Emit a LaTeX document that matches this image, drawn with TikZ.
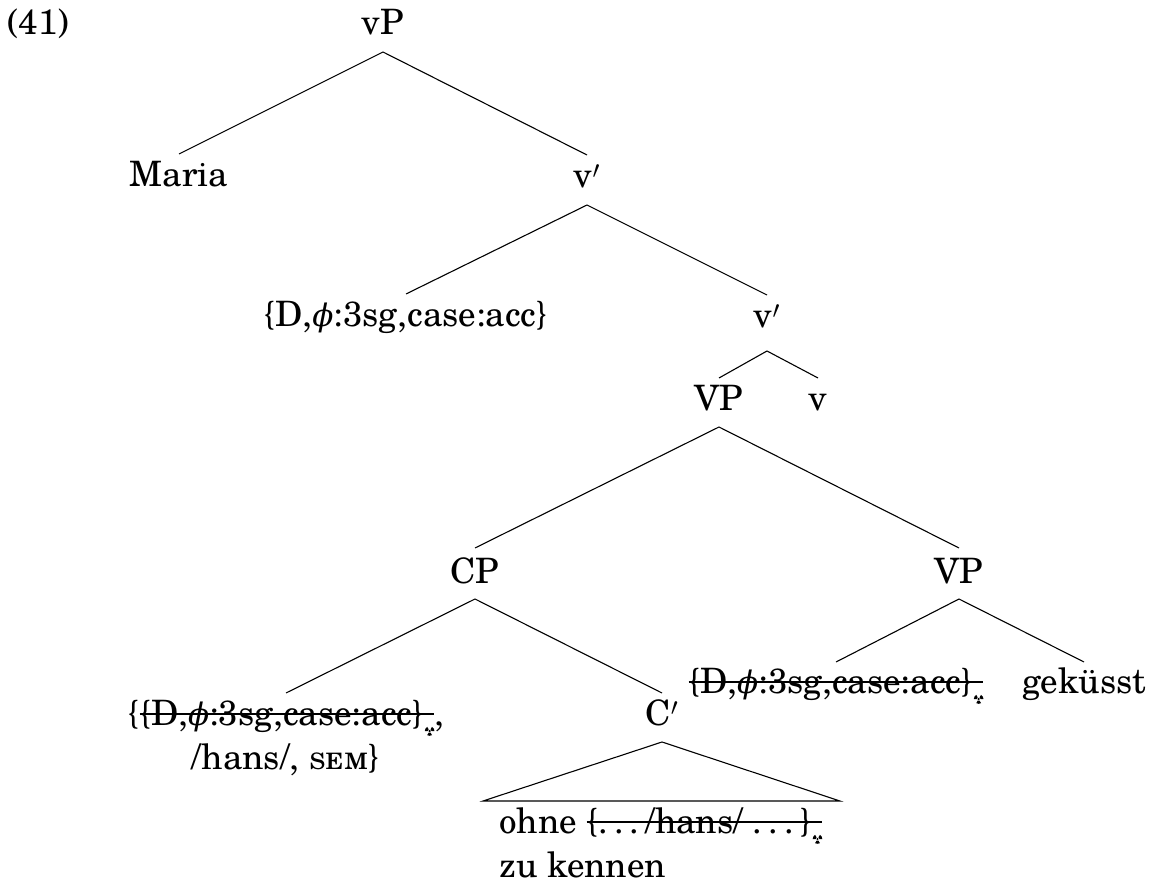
\documentclass[tikz,border=0pt]{standalone}
\usepackage{fontspec}
\setmainfont{texgyreschola}[Extension=.otf, UprightFont=*-regular, ItalicFont=*-italic, BoldFont=*-bold, BoldItalicFont=*-bolditalic]
\newfontfamily\grkfont{DejaVu Serif}
\newsavebox\strkbox
% struck-through material: a rule laid over the boxed text
\newcommand\strk[1]{\sbox\strkbox{#1}\rlap{\rule[10pt]{\wd\strkbox}{2pt}}\usebox\strkbox}
% small trefoil mark set after deleted material
\newcommand\trefoil{\kern1pt\tikz[x=1pt,y=1pt,baseline={(0,-6)}]{%
  \fill (0,0) circle (1.2);
  \foreach \a in {30,150,270}{%
    \fill (\a-30:1.9) arc[start angle=\a-30,end angle=\a+30,radius=1.9]
      -- (\a+30:4.8) arc[start angle=\a+30,end angle=\a-30,radius=4.8] -- cycle;}}}
\newcommand\phisym{{\grkfont\itshape\fontsize{31}{31}\selectfont ϕ}}
\newcommand\spdots{.\kern.17em.\kern.17em.\kern.17em}
\newcommand\featset{\{D,\phisym:3sg,case:acc\}}
\begin{document}
\begin{tikzpicture}[x=1pt,y=-1pt,
  every node/.style={font=\fontsize{35}{44}\selectfont, inner sep=0pt, anchor=base},
  branch/.style={line width=1.1pt}]
\useasboundingbox (0,0) rectangle (1152,890);

\node[anchor=base west] (ex) at (7,35) {(41)};

\node (vP)    at (383,35)  {vP};
\node (maria) at (179,187) {Maria};
\node (vb1)   at (587,188) {v$'$};
\node (feat)  at (406,327) {\featset};
\node (vb2)   at (767,328) {v$'$};
\node (VPa)   at (719,411) {VP};
\node (v)     at (818,411) {v};
\node (CP)    at (475,583) {CP};
\node (VPb)   at (959,583) {VP};
\node (spec)  at (286,725) {\begin{tabular}[t]{@{}c@{}}\{\strk{\featset\trefoil},\\ /hans/, \textsc{sem}\}\end{tabular}};
\node (Cb)    at (662,725) {C$'$};
\node[anchor=base west] (ohne) at (499,833) {\begin{tabular}[t]{@{}l@{}}ohne \strk{\{\spdots/hans/ \spdots\}\trefoil}\\ zu kennen\end{tabular}};
\node (obj)   at (836,693) {\strk{\featset\trefoil}};
\node (gek)   at (1084,693) {geküsst};

\coordinate (tl) at (483,801);
\coordinate (tr) at (840,801);

\draw[branch] ([yshift=33pt]maria.base) -- ([yshift=-17pt]vP.base) -- ([yshift=33pt]vb1.base);
\draw[branch] ([yshift=33pt]feat.base) -- ([yshift=-17pt]vb1.base) -- ([yshift=33pt]vb2.base);
\draw[branch] ([yshift=33pt]VPa.base) -- ([yshift=-23pt]vb2.base) -- ([yshift=33pt]v.base);
\draw[branch] ([yshift=35pt]CP.base) -- ([yshift=-16pt]VPa.base) -- ([yshift=35pt]VPb.base);
\draw[branch] ([yshift=32pt]spec.base) -- ([yshift=-16pt]CP.base) -- ([yshift=32pt]Cb.base);
\draw[branch] ([yshift=31pt]obj.base) -- ([yshift=-16pt]VPb.base) -- ([yshift=31pt]gek.base);
\draw[branch] (tl) -- ([yshift=-17pt]Cb.base) -- (tr) -- cycle;
\end{tikzpicture}
\end{document}
